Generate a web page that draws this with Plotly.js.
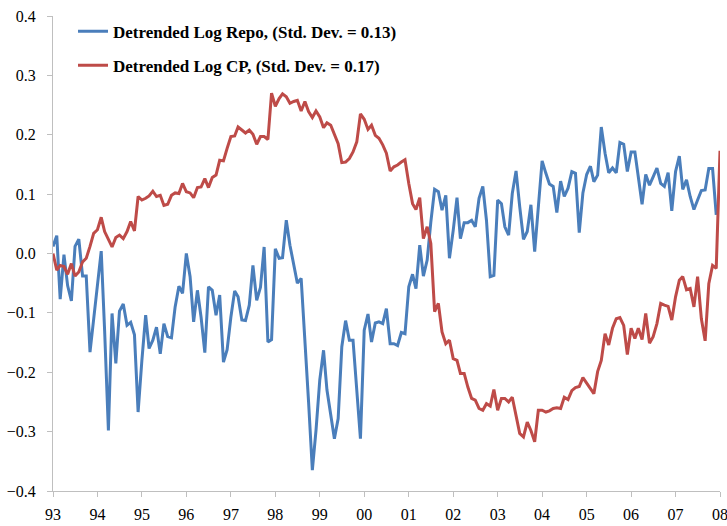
<!DOCTYPE html>
<html>
<head>
<meta charset="utf-8">
<script src="https://cdn.plot.ly/plotly-3.0.1.min.js"></script>
<style>html,body{margin:0;padding:0;background:#fff;}#chart{width:727px;height:526px;}</style>
</head>
<body>
<div id="chart"></div>
<script>
// Monthly observations, Jan 1993 onward
var startYear = 1993;
var repoName = "Detrended Log Repo, (Std. Dev. = 0.13)";
var cpName = "Detrended Log CP, (Std. Dev. = 0.17)";

var repo = [
 0.012, 0.030,-0.077,-0.002,-0.054,-0.080, 0.012, 0.024,-0.038,-0.038,-0.166,-0.112,
-0.055, 0.004,-0.130,-0.298,-0.101,-0.185,-0.097,-0.085,-0.121,-0.116,-0.137,-0.267,
-0.180,-0.104,-0.160,-0.146,-0.124,-0.169,-0.118,-0.140,-0.142,-0.090,-0.055,-0.067,
 0.000,-0.039,-0.115,-0.062,-0.107,-0.167,-0.056,-0.062,-0.104,-0.070,-0.183,-0.162,
-0.107,-0.063,-0.073,-0.112,-0.113,-0.087,-0.020,-0.079,-0.057, 0.011,-0.149,-0.145,
 0.008,-0.008,-0.007, 0.056, 0.014,-0.022,-0.050,-0.042,-0.140,-0.250,-0.365,-0.298,
-0.213,-0.163,-0.230,-0.270,-0.312,-0.278,-0.157,-0.113,-0.146,-0.146,-0.236,-0.312,
-0.129,-0.102,-0.149,-0.117,-0.115,-0.118,-0.093,-0.152,-0.152,-0.155,-0.133,-0.135,
-0.056,-0.035,-0.059, 0.014,-0.038,-0.011, 0.053, 0.108, 0.104, 0.073, 0.098,-0.008,
 0.039, 0.094, 0.025, 0.052, 0.052, 0.056, 0.045, 0.093, 0.113, 0.056,-0.039,-0.037,
 0.090, 0.084, 0.045, 0.031, 0.101, 0.139, 0.079, 0.024, 0.037, 0.082, 0.003, 0.079,
 0.156, 0.135, 0.117, 0.113, 0.069, 0.122, 0.096, 0.110, 0.138, 0.135, 0.035, 0.102,
 0.133, 0.147, 0.121, 0.132, 0.213, 0.169, 0.136, 0.144, 0.136, 0.187, 0.184, 0.138,
 0.171, 0.171, 0.129, 0.083, 0.133, 0.115, 0.129, 0.144, 0.118, 0.113, 0.136, 0.072,
 0.138, 0.164, 0.108, 0.124, 0.096, 0.074, 0.090, 0.106, 0.107, 0.143, 0.143, 0.065
];

var cp = [
 0.000,-0.028,-0.020,-0.022,-0.035,-0.017,-0.038,-0.031,-0.014,-0.008, 0.012, 0.034,
 0.040, 0.061, 0.037, 0.024, 0.011, 0.027, 0.031, 0.025, 0.037, 0.054, 0.038, 0.096,
 0.090, 0.093, 0.097, 0.105, 0.096, 0.098, 0.081, 0.083, 0.098, 0.102, 0.101, 0.118,
 0.104, 0.102, 0.094, 0.111, 0.112, 0.126, 0.111, 0.128, 0.132, 0.157, 0.156, 0.177,
 0.197, 0.198, 0.213, 0.208, 0.203, 0.208, 0.201, 0.184, 0.197, 0.197, 0.192, 0.270,
 0.248, 0.261, 0.269, 0.264, 0.253, 0.256, 0.258, 0.240, 0.256, 0.239, 0.229, 0.240,
 0.230, 0.212, 0.220, 0.216, 0.199, 0.185, 0.153, 0.154, 0.160, 0.171, 0.188, 0.235,
 0.226, 0.209, 0.216, 0.199, 0.194, 0.183, 0.169, 0.139, 0.146, 0.149, 0.154, 0.158,
 0.118, 0.084, 0.074, 0.094, 0.025, 0.045, 0.017,-0.098,-0.084,-0.132,-0.152,-0.146,
-0.177,-0.180,-0.202,-0.202,-0.225,-0.244,-0.247,-0.261,-0.264,-0.253,-0.257,-0.229,
-0.264,-0.244,-0.244,-0.250,-0.242,-0.272,-0.303,-0.309,-0.284,-0.298,-0.317,-0.264,
-0.264,-0.267,-0.265,-0.261,-0.260,-0.261,-0.242,-0.246,-0.231,-0.226,-0.224,-0.209,
-0.219,-0.228,-0.236,-0.199,-0.180,-0.135,-0.154,-0.126,-0.110,-0.108,-0.121,-0.170,
-0.126,-0.143,-0.126,-0.145,-0.101,-0.151,-0.140,-0.118,-0.084,-0.087,-0.089,-0.112,
-0.073,-0.045,-0.039,-0.061,-0.059,-0.090,-0.039,-0.110,-0.147,-0.051,-0.020,-0.025,
 0.173
];

function monthDates(n) {
  var out = [];
  for (var i = 0; i < n; i++) {
    var y = startYear + Math.floor(i / 12);
    var mo = (i % 12) + 1;
    out.push(y + "-" + (mo < 10 ? "0" + mo : mo) + "-01");
  }
  return out;
}

var traces = [
  {x: monthDates(repo.length), y: repo, type: "scatter", mode: "lines", name: repoName,
   legendgroup: "a", line: {color: "#4a7ebb", width: 3}},
  {x: monthDates(cp.length), y: cp, type: "scatter", mode: "lines", name: cpName,
   legendgroup: "b", line: {color: "#be4b48", width: 3}}
];

var serif = "Liberation Serif";
var axisFont = {family: serif, size: 16, color: "#000"};

var layout = {
  width: 727, height: 526,
  margin: {l: 53, r: 7, t: 16, b: 35, pad: 0},
  paper_bgcolor: "#fff", plot_bgcolor: "#fff",
  font: {family: serif},
  showlegend: true,
  legend: {x: 0.03, y: 1.005, xanchor: "left", yanchor: "top", bgcolor: "rgba(0,0,0,0)",
           font: {family: serif, size: 17, color: "#000", weight: "bold"},
           traceorder: "grouped", tracegroupgap: 9, itemwidth: 30},
  xaxis: {type: "date", range: ["1993-01-01", "2008-01-01"], tickformat: "%y", dtick: "M12",
          tick0: "1993-01-01", showgrid: false, zeroline: false, showline: true, linecolor: "#bfbfbf",
          linewidth: 1, ticks: "outside", ticklen: 5, tickcolor: "#bfbfbf", tickfont: axisFont,
          ticklabelstandoff: 4, ticklabeloverflow: "allow"},
  yaxis: {range: [-0.4, 0.4], dtick: 0.1, tickformat: ".1f", showgrid: false, zeroline: false,
          showline: true, linecolor: "#bfbfbf", linewidth: 1, ticks: "outside", ticklen: 5,
          tickcolor: "#bfbfbf", tickfont: axisFont, ticklabelstandoff: 8}
};

Plotly.newPlot("chart", traces, layout, {displayModeBar: false, staticPlot: true});
</script>
</body>
</html>
